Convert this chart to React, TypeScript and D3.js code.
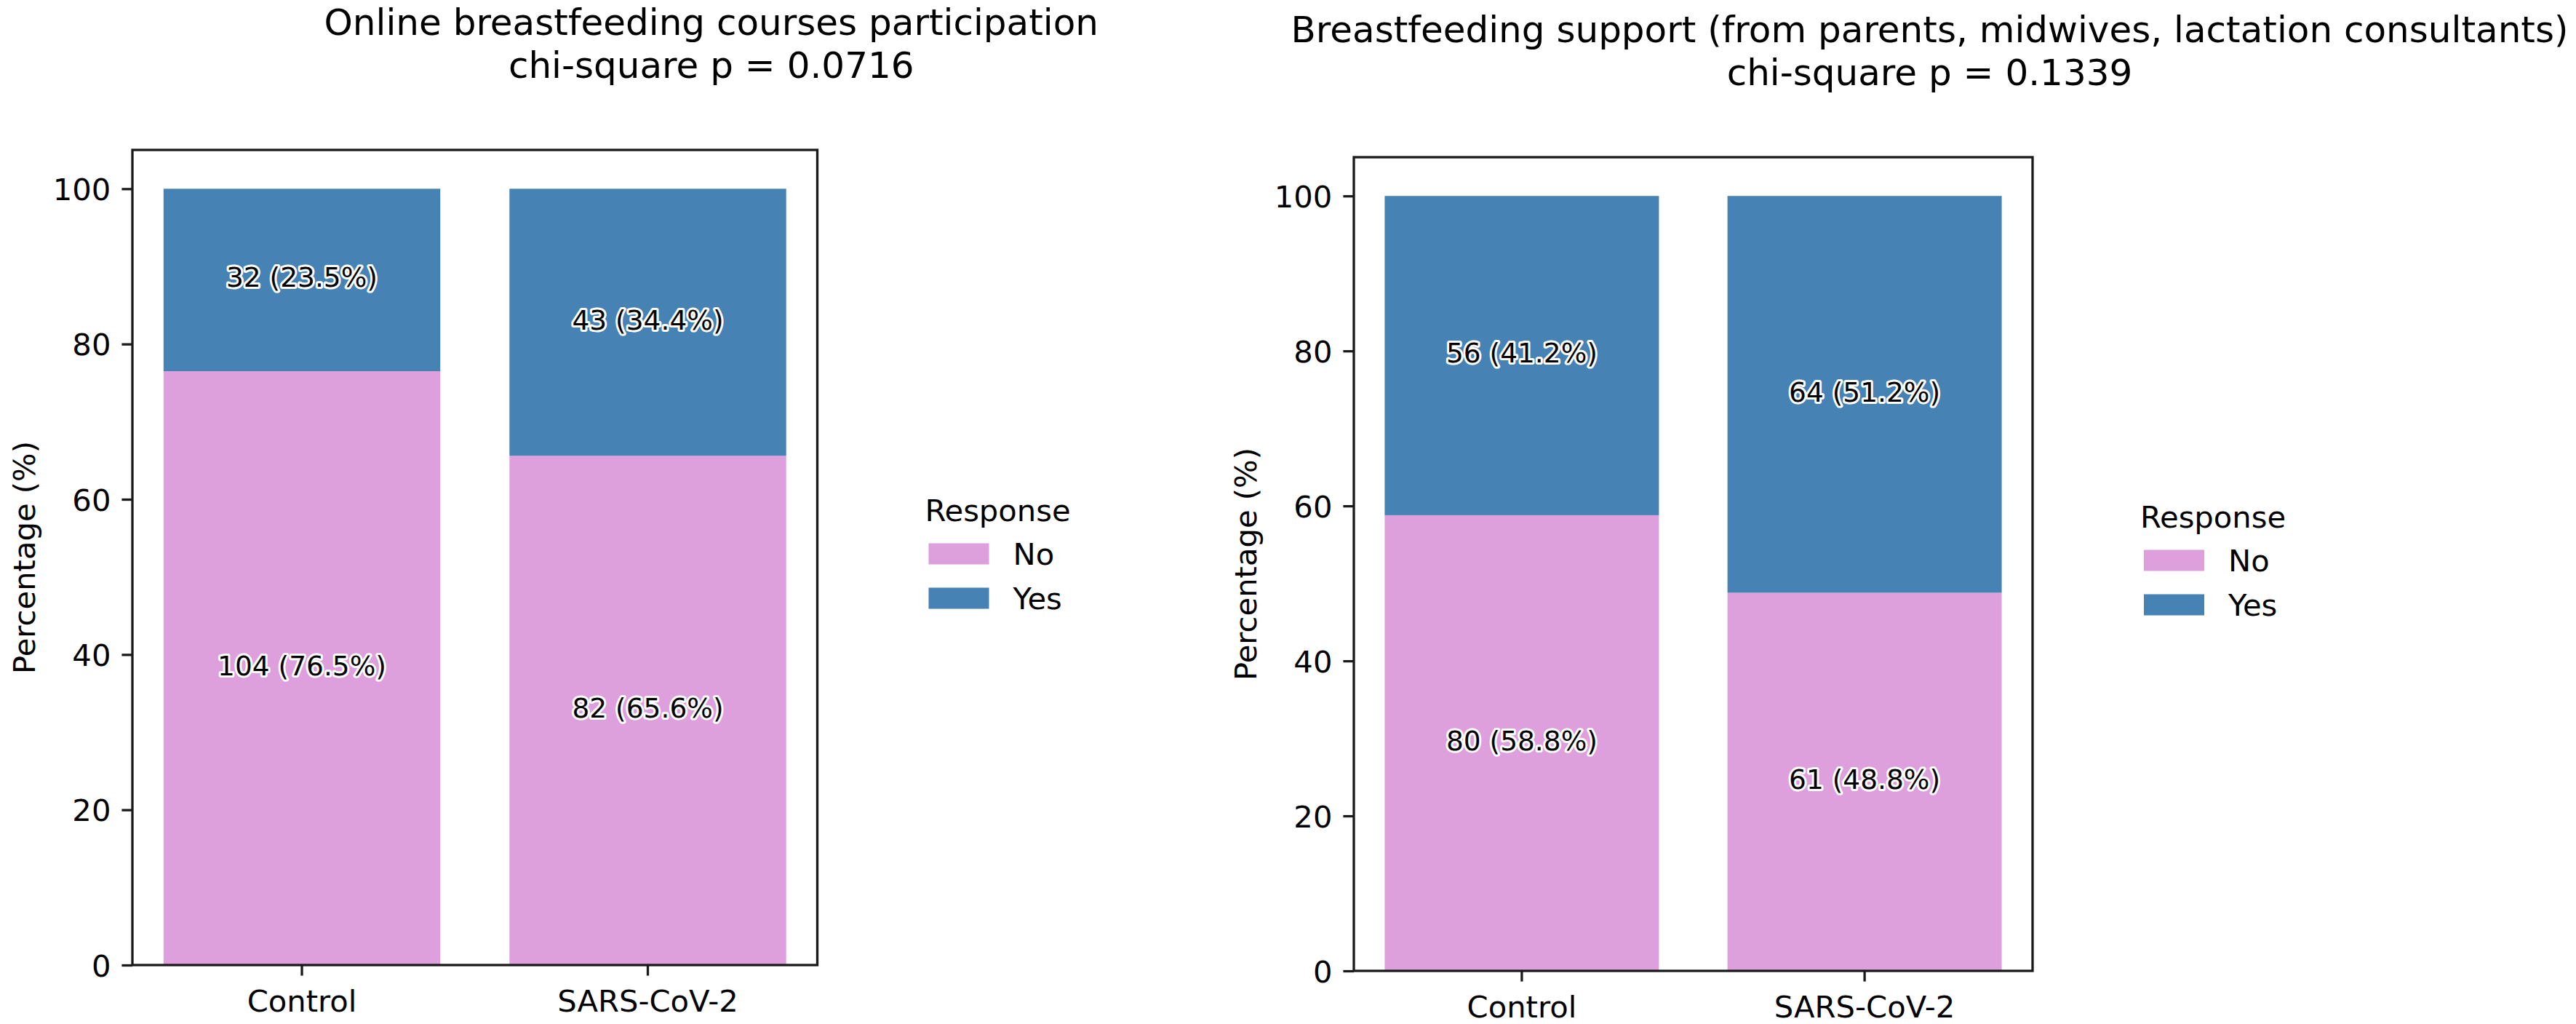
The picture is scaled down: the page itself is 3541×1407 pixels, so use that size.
import { useEffect, useRef } from "react";
import * as d3 from "d3";

const groups = ["Control", "SARS-CoV-2"];
const responses = ["No", "Yes"];
const responseColors = ["#DDA0DD", "#4682B4"];
const yTicks = [0, 20, 40, 60, 80, 100];

const coursesTitle = ["Online breastfeeding courses participation", "chi-square p = 0.0716"];
const coursesNo = [104, 82];
const coursesYes = [32, 43];
const coursesNoPct = [76.5, 65.6];
const coursesYesPct = [23.5, 34.4];

const supportTitle = [
  "Breastfeeding support (from parents, midwives, lactation consultants)",
  "chi-square p = 0.1339",
];
const supportNo = [80, 61];
const supportYes = [56, 64];
const supportNoPct = [58.8, 48.8];
const supportYesPct = [41.2, 51.2];

const WIDTH = 3541;
const HEIGHT = 1407;
const FONT = "'DejaVu Sans', sans-serif";
const INK = "#1a1a1a";

const panels = [
  {
    title: coursesTitle,
    no: coursesNo,
    yes: coursesYes,
    noPct: coursesNoPct,
    yesPct: coursesYesPct,
    box: { left: 182, right: 1123.5, top: 206, bottom: 1326 },
  },
  {
    title: supportTitle,
    no: supportNo,
    yes: supportYes,
    noPct: supportNoPct,
    yesPct: supportYesPct,
    box: { left: 1861, right: 2794, top: 216, bottom: 1334 },
  },
];

function drawPanel(svg, panel) {
  const { box } = panel;
  const rows = groups.map((group, i) => ({
    group,
    No: panel.noPct[i],
    Yes: panel.yesPct[i],
    nNo: panel.no[i],
    nYes: panel.yes[i],
  }));

  const x = d3
    .scaleBand()
    .domain(groups)
    .range([box.left, box.right])
    .paddingInner(0.2)
    .paddingOuter(0.09);

  const y = d3.scaleLinear().domain([0, 105]).range([box.bottom, box.top]);

  const series = d3.stack().keys(responses)(rows);
  const g = svg.append("g");

  series.forEach((layer, k) => {
    g.append("g")
      .selectAll("rect")
      .data(layer)
      .join("rect")
      .attr("x", (d) => x(d.data.group))
      .attr("width", x.bandwidth())
      .attr("y", (d) => y(d[1]))
      .attr("height", (d) => y(d[0]) - y(d[1]))
      .attr("fill", responseColors[k]);
  });

  series.forEach((layer, k) => {
    g.append("g")
      .selectAll("text")
      .data(layer)
      .join("text")
      .attr("x", (d) => x(d.data.group) + x.bandwidth() / 2)
      .attr("y", (d) => y((d[0] + d[1]) / 2))
      .attr("dy", "0.26em")
      .attr("text-anchor", "middle")
      .attr("font-family", FONT)
      .attr("font-size", 37.5)
      .attr("fill", "#000")
      .attr("stroke", "#fff")
      .attr("stroke-width", 6)
      .attr("stroke-linejoin", "round")
      .attr("paint-order", "stroke")
      .text((d) => {
        const n = k === 0 ? d.data.nNo : d.data.nYes;
        return `${n} (${(d[1] - d[0]).toFixed(1)}%)`;
      });
  });

  // frame
  g.append("rect")
    .attr("x", box.left)
    .attr("y", box.top)
    .attr("width", box.right - box.left)
    .attr("height", box.bottom - box.top)
    .attr("fill", "none")
    .attr("stroke", INK)
    .attr("stroke-width", 3.3);

  const styleAxis = (a) => {
    a.select(".domain").remove();
    a.selectAll(".tick line").attr("stroke", INK).attr("stroke-width", 3.3);
    a.selectAll(".tick text")
      .attr("fill", "#000")
      .attr("font-family", FONT)
      .attr("font-size", 41.7);
  };

  g.append("g")
    .attr("transform", `translate(${box.left},0)`)
    .call(d3.axisLeft(y).tickValues(yTicks).tickSize(14.6).tickPadding(15))
    .call(styleAxis)
    .call((a) => a.selectAll(".tick text").attr("dy", "0.36em"));

  g.append("g")
    .attr("transform", `translate(0,${box.bottom})`)
    .call(d3.axisBottom(x).tickSize(14.6).tickPadding(20))
    .call(styleAxis);

  const midY = (box.top + box.bottom) / 2;

  g.append("text")
    .attr("transform", `translate(${box.left - 134},${midY}) rotate(-90)`)
    .attr("text-anchor", "middle")
    .attr("font-family", FONT)
    .attr("font-size", 41.7)
    .attr("fill", "#000")
    .text("Percentage (%)");

  // title
  const tx = (box.left + box.right) / 2 + 325;
  g.append("text")
    .attr("text-anchor", "middle")
    .attr("font-family", FONT)
    .attr("font-size", 50)
    .attr("fill", "#000")
    .selectAll("tspan")
    .data(panel.title)
    .join("tspan")
    .attr("x", tx)
    .attr("y", (d, i) => box.top - 158 + i * 59)
    .text((d) => d);

  // legend
  const lx = box.right + 153;
  const legend = g.append("g").attr("font-family", FONT).attr("font-size", 41.7);
  legend
    .append("text")
    .attr("x", lx + 95)
    .attr("y", midY - 50)
    .attr("text-anchor", "middle")
    .attr("fill", "#000")
    .text("Response");

  const rowsY = [midY - 5, midY + 56];
  const item = legend
    .selectAll("g.item")
    .data(responses)
    .join("g")
    .attr("class", "item")
    .attr("transform", (d, i) => `translate(${lx},${rowsY[i]})`);
  item
    .append("rect")
    .attr("x", 0)
    .attr("y", -14.5)
    .attr("width", 83)
    .attr("height", 29)
    .attr("fill", (d, i) => responseColors[i]);
  item
    .append("text")
    .attr("x", 116)
    .attr("y", 0)
    .attr("dy", "0.35em")
    .attr("fill", "#000")
    .text((d) => d);
}

const App = () => {
  const ref = useRef(null);

  useEffect(() => {
    if (!ref.current) return;
    const svg = d3.select(ref.current);
    svg.selectAll("*").remove();
    svg.append("rect").attr("width", WIDTH).attr("height", HEIGHT).attr("fill", "#fff");
    panels.forEach((p) => drawPanel(svg, p));
  }, []);

  return (
    <svg
      ref={ref}
      width={WIDTH}
      height={HEIGHT}
      viewBox={`0 0 ${WIDTH} ${HEIGHT}`}
      style={{ position: "absolute", left: 0, top: 0, display: "block" }}
    />
  );
};

export default App;
